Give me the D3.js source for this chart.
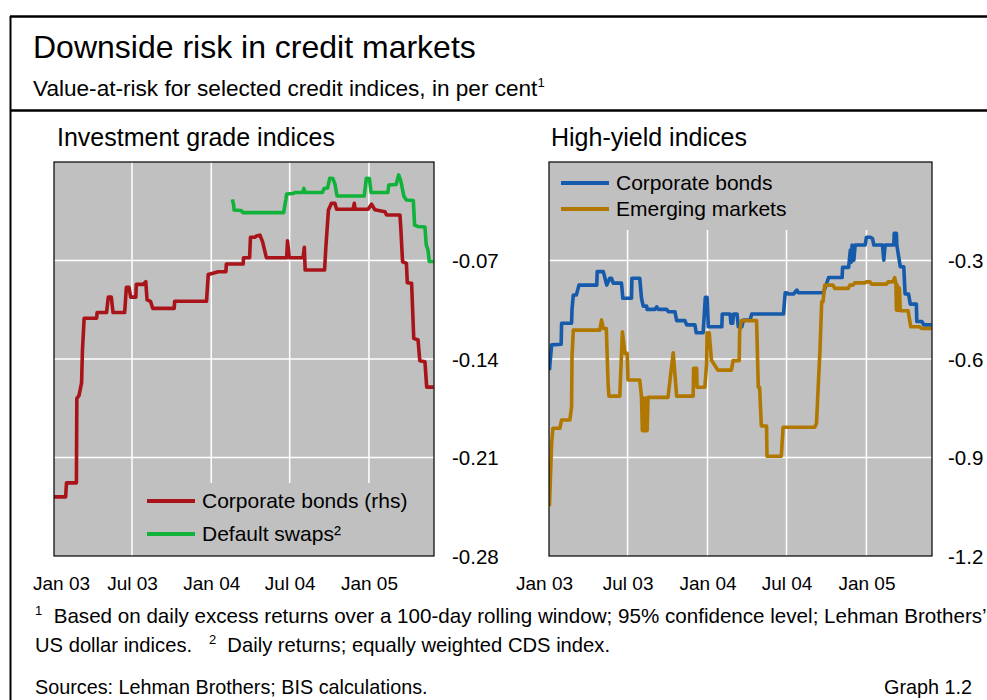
<!DOCTYPE html>
<html><head><meta charset="utf-8">
<script src="https://cdn.jsdelivr.net/npm/d3@7"></script>
<style>
body{margin:0;background:#fff;}
svg{display:block;font-family:"Liberation Sans",Arial,sans-serif;}
</style></head>
<body><svg id="c" width="987" height="700"></svg>
<script>
// ---- DATA ----
const xTickDates = ["2003-01-01","2003-07-01","2004-01-01","2004-07-01","2005-01-01"];
const xTickLabels = ["Jan 03","Jul 03","Jan 04","Jul 04","Jan 05"];
const igTicks = [-0.07,-0.14,-0.21,-0.28];
const igTickLabels = ["-0.07","-0.14","-0.21","-0.28"];
const hyTicks = [-0.3,-0.6,-0.9,-1.2];
const hyTickLabels = ["-0.3","-0.6","-0.9","-1.2"];
const seriesNames = ["Corporate bonds (rhs)","Default swaps\u00b2","Corporate bonds","Emerging markets"];

const igCorporate = [
["2003-01-01",-0.238],["2003-01-28",-0.238],["2003-01-30",-0.228],["2003-02-22",-0.228],
["2003-02-23",-0.168],["2003-02-28",-0.166],["2003-03-06",-0.157],["2003-03-08",-0.134],
["2003-03-12",-0.111],["2003-04-10",-0.111],["2003-04-11",-0.107],["2003-05-03",-0.107],
["2003-05-07",-0.096],["2003-05-14",-0.096],["2003-05-18",-0.107],["2003-06-14",-0.107],
["2003-06-18",-0.089],["2003-06-24",-0.089],["2003-06-28",-0.096],["2003-07-10",-0.096],
["2003-07-11",-0.087],["2003-07-27",-0.087],["2003-08-02",-0.085],["2003-08-05",-0.098],
["2003-08-13",-0.099],["2003-08-18",-0.104],["2003-10-07",-0.104],["2003-10-08",-0.099],
["2003-12-21",-0.099],["2003-12-25",-0.080],["2004-01-05",-0.079],["2004-01-17",-0.078],
["2004-02-04",-0.078],["2004-02-05",-0.0725],["2004-03-15",-0.0725],["2004-03-16",-0.068],
["2004-03-30",-0.068],["2004-04-01",-0.0535],["2004-04-11",-0.0535],["2004-04-15",-0.0526],
["2004-04-23",-0.052],["2004-04-29",-0.0566],["2004-05-08",-0.068],["2004-06-24",-0.068],
["2004-06-26",-0.056],["2004-06-30",-0.068],["2004-08-01",-0.068],["2004-08-04",-0.0606],
["2004-08-06",-0.0768],["2004-09-20",-0.0768],["2004-09-23",-0.0606],["2004-09-29",-0.0341],
["2004-10-06",-0.0294],["2004-10-14",-0.0294],["2004-10-18",-0.0336],["2004-11-25",-0.0336],
["2004-11-28",-0.0294],["2004-11-30",-0.0336],["2004-12-30",-0.0336],["2005-01-07",-0.030],
["2005-01-15",-0.034],["2005-02-07",-0.0353],["2005-02-11",-0.0377],["2005-03-14",-0.0377],
["2005-03-16",-0.0471],["2005-03-20",-0.0709],["2005-03-29",-0.072],["2005-03-31",-0.0858],
["2005-04-10",-0.0862],["2005-04-15",-0.1253],["2005-04-25",-0.1265],["2005-04-29",-0.1412],
["2005-05-11",-0.1419],["2005-05-15",-0.160],["2005-05-31",-0.160]
];
const igDefaultSwaps = [
["2004-02-19",-0.0265],["2004-02-22",-0.0306],["2004-02-23",-0.0341],["2004-03-10",-0.0345],
["2004-03-15",-0.036],["2004-06-17",-0.036],["2004-06-22",-0.027],["2004-06-24",-0.0227],
["2004-07-08",-0.0224],["2004-07-13",-0.0217],["2004-07-31",-0.0217],["2004-08-03",-0.0188],
["2004-08-06",-0.0217],["2004-09-15",-0.0217],["2004-09-19",-0.0188],["2004-09-27",-0.0185],
["2004-10-02",-0.0116],["2004-10-09",-0.0117],["2004-10-14",-0.0156],["2004-10-19",-0.0242],
["2004-12-21",-0.0242],["2004-12-26",-0.0116],["2005-01-02",-0.0117],["2005-01-06",-0.0217],
["2005-02-14",-0.0217],["2005-02-16",-0.0163],["2005-03-05",-0.016],["2005-03-11",-0.0092],
["2005-03-16",-0.0135],["2005-03-23",-0.0242],["2005-03-29",-0.027],["2005-04-14",-0.0274],
["2005-04-17",-0.0448],["2005-04-24",-0.0458],["2005-05-11",-0.0462],["2005-05-14",-0.059],
["2005-05-18",-0.0625],["2005-05-21",-0.0707],["2005-05-31",-0.0707]
];
const hyCorporate = [
["2003-01-02",-0.634],["2003-01-07",-0.557],["2003-01-29",-0.555],["2003-01-30",-0.491],
["2003-02-22",-0.491],["2003-02-23",-0.449],["2003-02-26",-0.405],["2003-03-05",-0.405],
["2003-03-11",-0.375],["2003-04-21",-0.375],["2003-04-22",-0.334],["2003-05-06",-0.334],
["2003-05-10",-0.354],["2003-05-14",-0.375],["2003-05-21",-0.354],["2003-05-25",-0.354],
["2003-05-29",-0.369],["2003-06-17",-0.369],["2003-06-20",-0.415],["2003-07-10",-0.415],
["2003-07-11",-0.354],["2003-07-29",-0.354],["2003-08-02",-0.415],["2003-08-06",-0.439],
["2003-08-14",-0.439],["2003-08-15",-0.449],["2003-09-02",-0.449],["2003-09-06",-0.441],
["2003-09-10",-0.449],["2003-09-29",-0.449],["2003-10-03",-0.456],["2003-10-18",-0.456],
["2003-10-22",-0.483],["2003-11-10",-0.483],["2003-11-14",-0.496],["2003-12-03",-0.496],
["2003-12-06",-0.520],["2003-12-22",-0.520],["2003-12-27",-0.412],["2003-12-31",-0.412],
["2004-01-03",-0.502],["2004-02-03",-0.502],["2004-02-04",-0.463],["2004-02-22",-0.463],
["2004-02-24",-0.491],["2004-02-28",-0.491],["2004-03-01",-0.463],["2004-03-09",-0.463],
["2004-03-12",-0.502],["2004-03-20",-0.502],["2004-03-24",-0.481],["2004-04-08",-0.481],
["2004-04-12",-0.463],["2004-06-24",-0.463],["2004-06-28",-0.398],["2004-07-02",-0.398],
["2004-07-05",-0.402],["2004-07-17",-0.402],["2004-07-25",-0.390],["2004-07-28",-0.398],
["2004-09-24",-0.398],["2004-10-06",-0.352],["2004-11-06",-0.352],["2004-11-07",-0.321],
["2004-11-21",-0.321],["2004-11-25",-0.268],["2004-11-27",-0.305],["2004-11-29",-0.253],
["2004-12-03",-0.299],["2004-12-06",-0.253],["2004-12-29",-0.253],["2005-01-01",-0.229],
["2005-01-10",-0.229],["2005-01-15",-0.233],["2005-01-18",-0.253],["2005-02-07",-0.253],
["2005-02-10",-0.299],["2005-02-13",-0.253],["2005-03-05",-0.253],["2005-03-06",-0.217],
["2005-03-11",-0.217],["2005-03-12",-0.253],["2005-03-20",-0.319],["2005-03-28",-0.319],
["2005-03-31",-0.402],["2005-04-08",-0.402],["2005-04-12",-0.433],["2005-04-26",-0.433],
["2005-04-27",-0.486],["2005-05-09",-0.486],["2005-05-13",-0.496],["2005-05-31",-0.496]
];
const hyEmerging = [
["2003-01-02",-1.048],["2003-01-07",-0.857],["2003-01-10",-0.811],["2003-01-26",-0.811],
["2003-01-30",-0.786],["2003-02-18",-0.786],["2003-02-22",-0.745],["2003-02-23",-0.593],
["2003-02-26",-0.512],["2003-04-28",-0.512],["2003-05-02",-0.481],["2003-05-06",-0.507],
["2003-05-13",-0.507],["2003-05-17",-0.674],["2003-05-19",-0.713],["2003-06-13",-0.713],
["2003-06-19",-0.517],["2003-06-25",-0.583],["2003-06-30",-0.583],["2003-07-02",-0.664],
["2003-07-29",-0.664],["2003-08-02",-0.715],["2003-08-04",-0.818],["2003-08-07",-0.719],
["2003-08-10",-0.818],["2003-08-12",-0.719],["2003-08-15",-0.818],["2003-08-17",-0.717],
["2003-10-02",-0.717],["2003-10-14",-0.581],["2003-10-22",-0.713],["2003-11-29",-0.713],
["2003-11-30",-0.628],["2003-12-07",-0.628],["2003-12-08",-0.686],["2003-12-26",-0.686],
["2003-12-30",-0.613],["2003-12-31",-0.520],["2004-01-05",-0.520],["2004-01-10",-0.603],
["2004-01-25",-0.634],["2004-02-25",-0.634],["2004-02-29",-0.605],["2004-03-14",-0.605],
["2004-03-15",-0.517],["2004-03-19",-0.483],["2004-04-23",-0.483],["2004-04-27",-0.686],
["2004-04-30",-0.686],["2004-05-04",-0.804],["2004-05-16",-0.804],["2004-05-17",-0.896],
["2004-06-19",-0.896],["2004-06-23",-0.808],["2004-09-04",-0.808],["2004-09-08",-0.796],
["2004-09-16",-0.573],["2004-09-20",-0.426],["2004-09-23",-0.426],["2004-09-27",-0.375],
["2004-10-16",-0.375],["2004-10-20",-0.385],["2004-11-20",-0.385],["2004-11-24",-0.375],
["2004-12-01",-0.375],["2004-12-05",-0.368],["2004-12-28",-0.368],["2005-01-01",-0.365],
["2005-01-09",-0.365],["2005-01-13",-0.372],["2005-02-16",-0.372],["2005-02-20",-0.365],
["2005-03-03",-0.365],["2005-03-07",-0.352],["2005-03-10",-0.369],["2005-03-11",-0.451],
["2005-03-13",-0.375],["2005-03-15",-0.451],["2005-03-18",-0.384],["2005-03-20",-0.453],
["2005-04-07",-0.453],["2005-04-13",-0.502],["2005-05-04",-0.502],["2005-05-08",-0.507],
["2005-05-31",-0.507]
];

// ---- DRAW ----
const parse = d3.timeParse("%Y-%m-%d");
const svg = d3.select("#c");
const FONT = '"Liberation Sans",Arial,sans-serif';
const colors = {red:"#a8141a", green:"#10b23a", blue:"#155aab", gold:"#b07800"};
const xDomain = [parse("2003-01-01"), parse("2005-06-01")];

// frame
svg.append("line").attr("x1",10).attr("x2",987).attr("y1",16.5).attr("y2",16.5).attr("stroke","#000").attr("stroke-width",2.5);
svg.append("line").attr("x1",10).attr("x2",987).attr("y1",110.5).attr("y2",110.5).attr("stroke","#000").attr("stroke-width",2.5);
svg.append("line").attr("x1",10.5).attr("x2",10.5).attr("y1",16).attr("y2",700).attr("stroke","#000").attr("stroke-width",2);

svg.append("text").attr("x",33).attr("y",58).attr("font-size",32).attr("fill","#000").text("Downside risk in credit markets");
const sub = svg.append("text").attr("x",33).attr("y",96).attr("font-size",22.6).attr("fill","#000");
sub.append("tspan").text("Value-at-risk for selected credit indices, in per cent");
sub.append("tspan").attr("font-size",13).attr("dy",-9).text("1");

function panel(opt){
  const g = svg.append("g");
  const x = d3.scaleTime().domain(xDomain).range([opt.x0, opt.x1]);
  const y = d3.scaleLinear().domain(opt.yDomain).range([opt.y1, opt.y0]);
  g.append("rect").attr("x",opt.x0).attr("y",opt.y0).attr("width",opt.x1-opt.x0).attr("height",opt.y1-opt.y0).attr("fill","#c0c0c0");
  // gridlines
  const yt = opt.ticks.slice(0,-1);
  g.selectAll(".hg").data(yt).join("line").attr("x1",opt.x0).attr("x2",opt.x1)
    .attr("y1",d=>y(d)).attr("y2",d=>y(d)).attr("stroke","#fff").attr("stroke-width",1.5);
  g.selectAll(".vg").data(xTickDates.slice(1)).join("line").attr("x1",d=>x(parse(d))).attr("x2",d=>x(parse(d)))
    .attr("y1",opt.y0).attr("y2",opt.y1).attr("stroke","#fff").attr("stroke-width",1.5);
  // legend box covering gridlines
  g.append("rect").attr("x",opt.leg.bx0).attr("y",opt.leg.by0).attr("width",opt.leg.bx1-opt.leg.bx0).attr("height",opt.leg.by1-opt.leg.by0).attr("fill","#c0c0c0");
  // lines
  const clipId = "clip"+opt.id;
  svg.append("clipPath").attr("id",clipId).append("rect").attr("x",opt.x0).attr("y",opt.y0-3).attr("width",opt.x1-opt.x0).attr("height",opt.y1-opt.y0+3);
  opt.series.forEach(s=>{
    const ys = s.scale || y;
    const line = d3.line().x(d=>x(parse(d[0]))).y(d=>ys(d[1]));
    g.append("path").attr("d",line(s.data)).attr("fill","none").attr("stroke",s.color)
      .attr("stroke-width",3.6).attr("stroke-linejoin","round").attr("stroke-linecap","butt").attr("clip-path",`url(#${clipId})`);
  });
  // border
  g.append("rect").attr("x",opt.x0).attr("y",opt.y0).attr("width",opt.x1-opt.x0).attr("height",opt.y1-opt.y0).attr("fill","none").attr("stroke","#000").attr("stroke-width",1.2);
  // legend entries
  opt.series.forEach((s,i)=>{
    const ly = opt.leg.y + i*opt.leg.dy;
    g.append("line").attr("x1",opt.leg.lx0).attr("x2",opt.leg.lx1).attr("y1",ly).attr("y2",ly).attr("stroke",s.color).attr("stroke-width",4);
    g.append("text").attr("x",opt.leg.tx).attr("y",ly).attr("dy","0.35em").attr("font-size",21).attr("fill","#000").text(s.name);
  });
  // right axis
  const ay = d3.axisRight(y).tickValues(opt.ticks).tickFormat((d,i)=>opt.tickLabels[i]).tickSize(0).tickPadding(0);
  const ag = g.append("g").attr("transform",`translate(${opt.labelX},0)`).call(ay);
  ag.select(".domain").remove();
  ag.selectAll("text").attr("font-size",20.5).attr("font-family",FONT).attr("fill","#000").attr("dy","0.35em");
  // bottom axis
  const ax = d3.axisBottom(x).tickValues(xTickDates.map(parse)).tickFormat((d,i)=>xTickLabels[i]).tickSize(0).tickPadding(0);
  const bg = g.append("g").attr("transform",`translate(0,${opt.y1+20})`).call(ax);
  bg.select(".domain").remove();
  bg.selectAll("text").attr("font-size",19).attr("font-family",FONT).attr("fill","#000").attr("dy","0.71em");
  bg.selectAll(".tick").filter((d,i)=>i===0).select("text").attr("dx",opt.firstDx);
  // title
  svg.append("text").attr("x",opt.titleX).attr("y",146).attr("font-size",25).attr("fill","#000").text(opt.title);
}

const igY = [-0.28,0];
const igYLeft = d3.scaleLinear().domain([-0.28,0]).range([556,162]);
panel({id:1,x0:54,x1:434,y0:162,y1:556,yDomain:igY,ticks:igTicks,tickLabels:igTickLabels,labelX:452,
  title:"Investment grade indices",titleX:57,firstDx:7,
  leg:{bx0:140,bx1:434,by0:483,by1:556,lx0:147,lx1:195,tx:202,y:501,dy:33},
  series:[{name:seriesNames[0],data:igCorporate,color:colors.red},
          {name:seriesNames[1],data:igDefaultSwaps,color:colors.green,scale:igYLeft}]});
panel({id:2,x0:549,x1:932,y0:162,y1:556,yDomain:[-1.2,0],ticks:hyTicks,tickLabels:hyTickLabels,labelX:948,
  title:"High-yield indices",titleX:551,firstDx:-5,
  leg:{bx0:549,bx1:932,by0:162,by1:230,lx0:561,lx1:609,tx:616,y:183,dy:26},
  series:[{name:seriesNames[2],data:hyCorporate,color:colors.blue},
          {name:seriesNames[3],data:hyEmerging,color:colors.gold}]});

// footnotes
const f1 = svg.append("text").attr("x",35).attr("y",623).attr("font-size",20.6).attr("fill","#000");
f1.append("tspan").attr("font-size",13).attr("dy",-8).text("1");
f1.append("tspan").attr("dy",8).text("\u00a0 Based on daily excess returns over a 100-day rolling window; 95% confidence level; Lehman Brothers\u2019");
const f2 = svg.append("text").attr("x",35).attr("y",652).attr("font-size",20.2).attr("fill","#000");
f2.append("tspan").text("US dollar indices.\u00a0\u00a0\u00a0");
f2.append("tspan").attr("font-size",13).attr("dy",-8).text("2");
f2.append("tspan").attr("dy",8).text("\u00a0 Daily returns; equally weighted CDS index.");
svg.append("text").attr("x",35).attr("y",694).attr("font-size",19.8).attr("fill","#000").text("Sources: Lehman Brothers; BIS calculations.");
svg.append("text").attr("x",972).attr("y",694).attr("font-size",19.8).attr("text-anchor","end").attr("fill","#000").text("Graph 1.2");
</script></body></html>
